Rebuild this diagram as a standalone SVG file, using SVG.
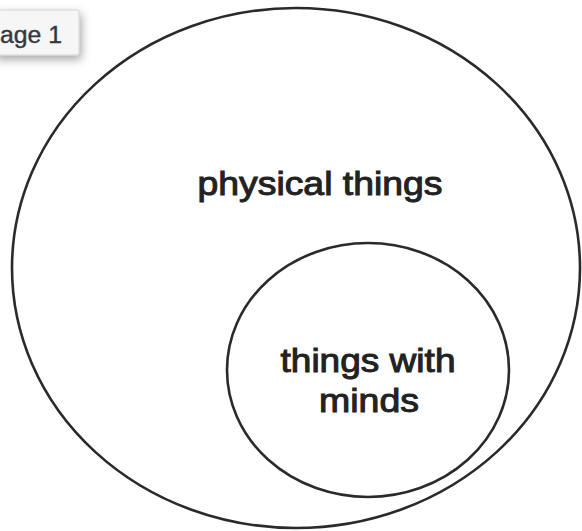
<svg xmlns="http://www.w3.org/2000/svg" width="582" height="531" viewBox="0 0 582 531">
  <defs>
    <filter id="shadow" x="-20%" y="-30%" width="150%" height="180%">
      <feDropShadow dx="2" dy="4" stdDeviation="5" flood-color="#000" flood-opacity="0.35"/>
    </filter>
    <style>
      .set { fill: none; stroke: #2a2a2a; stroke-width: 2.6; }
      .label { font-family: "Liberation Sans", Arial, sans-serif; font-size: 33px; fill: #222; stroke: #222; stroke-width: 1; text-anchor: middle; }
      .tab { font-family: "Liberation Sans", Arial, sans-serif; font-size: 23px; fill: #34393f; stroke: #34393f; stroke-width: 0.4; }
    </style>
  </defs>
  <rect width="582" height="531" fill="#ffffff"/>
  <g id="page-tab">
    <rect x="-6" y="10" width="85" height="45" rx="2" fill="#f6f6f6" stroke="#d2d2d2" stroke-width="1" filter="url(#shadow)"/>
    <text class="tab" x="0" y="43" textLength="62" lengthAdjust="spacingAndGlyphs">age 1</text>
  </g>
  <g id="physical-things">
    <ellipse class="set" cx="296" cy="268" rx="284" ry="260"/>
    <text class="label" x="320" y="195" textLength="245" lengthAdjust="spacingAndGlyphs">physical things</text>
  </g>
  <g id="things-with-minds">
    <ellipse class="set" cx="368" cy="370" rx="141" ry="127"/>
    <text class="label" x="368" y="372" textLength="175" lengthAdjust="spacingAndGlyphs">things with</text>
    <text class="label" x="369" y="412" textLength="100" lengthAdjust="spacingAndGlyphs">minds</text>
  </g>
  <g id="connectors"/>
</svg>
